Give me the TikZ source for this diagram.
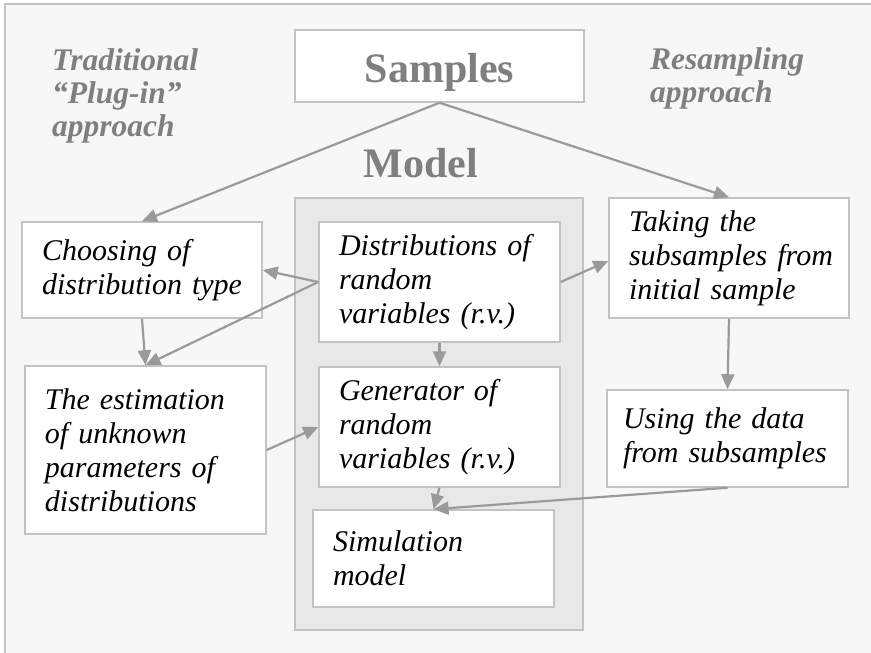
\documentclass[tikz,border=0pt]{standalone}
\usepackage{fontspec}
\setmainfont{Liberation Serif}
\usetikzlibrary{arrows.meta}
\definecolor{bgc}{HTML}{F7F7F7}
\definecolor{edgec}{HTML}{C3C3C3}
\definecolor{modelc}{HTML}{E8E8E8}
\definecolor{arrc}{HTML}{9A9A9A}
\definecolor{titlec}{HTML}{7F7F7F}
\newcommand\oneline[1]{\mbox{#1}}
\begin{document}
\begin{tikzpicture}[x=1pt,y=-1pt,
  box/.style={draw=edgec, line width=1.5pt, fill=white, inner xsep=20pt, inner ysep=0pt,
    font=\fontsize{30}{34}\selectfont\itshape, align=left},
  conn/.style={draw=arrc, line width=2.2pt, -{Triangle[length=15pt,width=13pt]}},
  ttl/.style={text=titlec, font=\fontsize{31.5}{33}\selectfont\bfseries\itshape, align=left, inner sep=0pt},
  big/.style={text=titlec, font=\fontsize{42}{46}\selectfont\bfseries, inner sep=0pt}]
\useasboundingbox (0,0) rectangle (871,653);
\fill[white] (0,0) rectangle (871,653);
\filldraw[fill=bgc, draw=edgec, line width=2pt] (5,4) rectangle (890,670);

% titles
\node[ttl, anchor=north west] (trad) at (52,48.5) {Traditional\\“Plug-in”\\approach};
\node[ttl, anchor=north west] (resamp) at (650,47.5) {Resampling\\approach};

% samples
\node[draw=edgec, line width=1.5pt, fill=white, big, minimum width=289pt, minimum height=72pt,
  text height=32pt, text depth=0pt] (samples) at (439.5,66) {Samples};

% model region
\node[draw=edgec, line width=1.5pt, fill=modelc, minimum width=288pt, minimum height=432pt, inner sep=0pt] (modelreg) at (439,414) {};
\node[big, anchor=base] (modeltitle) at (421,177) {Model};

% boxes
\node[box, minimum height=96pt, text width=200pt] (choosing) at (142,270) {Choosing of\\distribution type};
\node[box, minimum height=168pt, text width=201pt] (estim) at (145.5,450) {The estimation\\of unknown\\parameters of\\distributions};
\node[box, minimum height=120pt, text width=201pt] (distr) at (439.5,282) {Distributions of\\random\\variables (r.v.)};
\node[box, minimum height=120pt, text width=201pt] (gen) at (439.5,427) {Generator of\\random\\variables (r.v.)};
\node[box, minimum height=97pt, text width=201pt] (sim) at (433.5,558.5) {Simulation\\model};
\node[box, minimum height=120pt, text width=200pt] (taking) at (729,258) {Taking the\\\oneline{subsamples from}\\initial sample};
\node[box, inner xsep=16pt, minimum height=97pt, text width=209pt] (using) at (727.5,438.5) {Using the data\\\oneline{from subsamples}};

% connectors
\draw[conn] (samples.south) -- (choosing.north);
\draw[conn] (samples.south) -- (taking.north);
\draw[conn] (distr.west) -- (choosing.east);
\draw[conn] (distr.west) -- (estim.north);
\draw[conn] (choosing.south) -- (estim.north);
\draw[conn] (distr.south) -- (gen.north);
\draw[conn] (estim.east) -- (gen.west);
\draw[conn] (distr.east) -- ([yshift=-3pt]taking.west);
\draw[conn] (taking.south) -- (using.north);
\draw[conn] (gen.south) -- (sim.north);
\draw[conn] (using.south) -- (sim.north);
\end{tikzpicture}
\end{document}
